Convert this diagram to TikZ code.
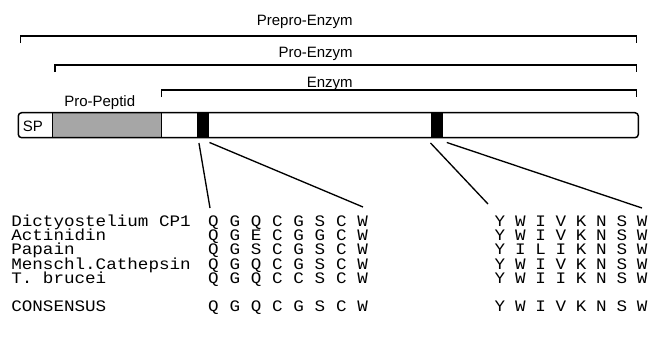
\documentclass[tikz,border=0pt]{standalone}
\usepackage{fontspec}
\setmainfont{Liberation Sans}
\newfontfamily\seqfont[FakeStretch=1.1]{Liberation Mono}
\usetikzlibrary{positioning}
\tikzset{bracket/.style = {line width=0.8pt}}
\tikzset{lbl/.style = {font=\fontsize{11.25}{13}\selectfont, inner sep=0pt}}
\tikzset{seq/.style = {font=\seqfont\fontsize{12}{14}\selectfont, inner sep=0pt, anchor=base}}
\tikzset{motif/.style = {fill=black, inner sep=0pt, minimum height=18.75pt}}

\begin{document}
\begin{tikzpicture}[x=0.75pt, y=-0.75pt]
                    \useasboundingbox (0,0) rectangle (659,344);

                    \foreach \nm/\l/\y in {prepro/20.7/36, pro/55/65, enz/161.7/90} {
                      \coordinate (\nm L) at (\l,\y);
                      \coordinate (\nm R) at (636.7,\y);
                      \draw[bracket] (\nm L) ++(0,7) -- (\nm L) -- (\nm R) -- ++(0,7);
                    }
                    \node[lbl, anchor=base east] (preprolbl) at (353,25) {Prepro-Enzym};
                    \node[lbl, anchor=base east] (prolbl) at (353,57) {Pro-Enzym};
                    \node[lbl, anchor=base east] (enzlbl) at (353,87) {Enzym};
                    \node[lbl, anchor=base west] (peplbl) at (64,106.7) {Pro-Peptid};

                    \fill[gray!70] (52.3,112.7) rectangle (161.7,137.7);
                    \draw[line width=1.1pt] (52.3,112.7) -- (52.3,137.7);
                    \draw[line width=1.1pt] (161.7,112.7) -- (161.7,137.7);
                    \draw[line width=1.1pt, rounded corners=2.5pt] (18.3,112.7) rectangle (638.3,137.7);
                    \node[lbl, anchor=base west] (sp) at (22.5,131.5) {SP};
                    \node[motif, minimum width=9pt] (m1) at (202.7,125.2) {};
                    \node[motif, minimum width=9.2pt] (m2) at (436.9,125.2) {};

                    \coordinate (e1) at (210,208);
                    \coordinate (e2) at (363,207);
                    \coordinate (e3) at (488,204);
                    \coordinate (e4) at (642,208);
                    \draw[line width=1pt] ([shift={(2.5,5)}]m1.south west) -- (e1);
                    \draw[line width=1pt] ([shift={(0.5,4.5)}]m1.south east) -- (e2);
                    \draw[line width=1pt] ([shift={(0,5)}]m2.south west) -- (e3);
                    \draw[line width=1pt] ([shift={(3.5,4.5)}]m2.south east) -- (e4);

                    \foreach \y/\nm/\a/\b [count=\i] in {
                        226/Dictyostelium CP1/{Q,G,Q,C,G,S,C,W}/{Y,W,I,V,K,N,S,W},
                        240.3/Actinidin/{Q,G,E,C,G,G,C,W}/{Y,W,I,V,K,N,S,W},
                        254.6/Papain/{Q,G,S,C,G,S,C,W}/{Y,I,L,I,K,N,S,W},
                        269/Menschl.Cathepsin/{Q,G,Q,C,G,S,C,W}/{Y,W,I,V,K,N,S,W},
                        283.3/T. brucei/{Q,G,Q,C,C,S,C,W}/{Y,W,I,I,K,N,S,W},
                        311.7/CONSENSUS/{Q,G,Q,C,G,S,C,W}/{Y,W,I,V,K,N,S,W}} {
                      \node[seq, anchor=base west] (name\i) at (11,\y) {\nm};
                      \foreach \c [count=\j] in \a {
                        \node[seq] (a\i-\j) at (213.5+21.3*\j-21.3,\y) {\c};
                      }
                      \foreach \c [count=\j] in \b {
                        \node[seq] (b\i-\j) at (500+20.3*\j-20.3,\y) {\c};
                      }
                    }
                  \end{tikzpicture}
\end{document}
